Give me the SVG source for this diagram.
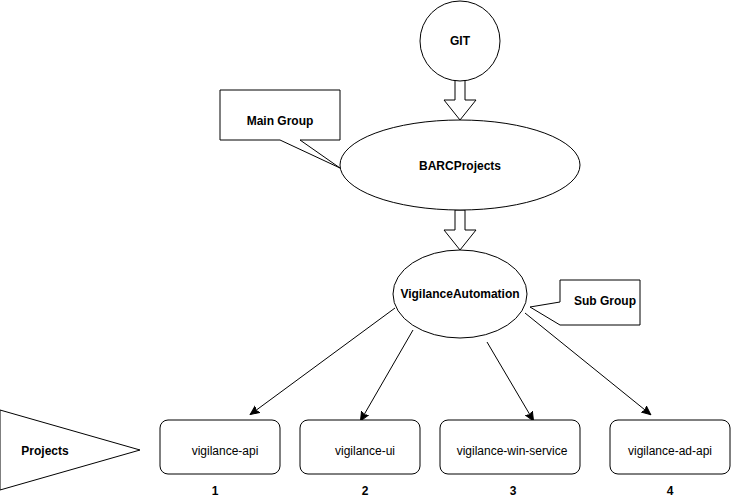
<svg xmlns="http://www.w3.org/2000/svg" width="731" height="501" viewBox="0 0 731 501">
<defs>
<marker id="ah" markerWidth="10" markerHeight="10" refX="8" refY="5" orient="auto" markerUnits="userSpaceOnUse">
<path d="M0,1 L9,5 L0,9 L2,5 Z" fill="#000" stroke="#000" stroke-width="1"/>
</marker>
<style>
.s{fill:#fff;stroke:#000;stroke-width:1}
.t{font-family:"Liberation Sans",Arial,sans-serif;font-size:12px;fill:#000;text-anchor:middle}
.b{font-weight:bold}
.c{fill:none;stroke:#000;stroke-width:1}
</style>
</defs>
<rect width="731" height="501" fill="#fff"/>
<g id="connectors">
<path class="s" d="M455,80 L465,80 L465,100 L476,100 L460,120 L444,100 L455,100 Z"/>
<path class="s" d="M455,210 L465,210 L465,230 L476,230 L460,250 L444,230 L455,230 Z"/>
<line class="c" x1="395" y1="308" x2="251" y2="414" marker-end="url(#ah)"/>
<line class="c" x1="413" y1="330" x2="361" y2="420" marker-end="url(#ah)"/>
<line class="c" x1="487" y1="342" x2="533" y2="420" marker-end="url(#ah)"/>
<line class="c" x1="525" y1="313" x2="650" y2="414" marker-end="url(#ah)"/>
</g>
<g id="git">
<circle class="s" cx="460" cy="41" r="40"/>
<text class="t b" x="460" y="45">GIT</text>
</g>
<g id="barcprojects">
<ellipse class="s" cx="460" cy="165" rx="120" ry="45"/>
<text class="t b" x="460" y="170">BARCProjects</text>
</g>
<g id="maingroup">
<path class="s" d="M220,90 L340,90 L340,140 L300,140 L340,168 L280,140 L220,140 Z"/>
<text class="t b" x="280" y="125">Main Group</text>
</g>
<g id="vigilanceautomation">
<ellipse class="s" cx="460" cy="294" rx="67" ry="44"/>
<text class="t b" x="460" y="298">VigilanceAutomation</text>
</g>
<g id="subgroup">
<path class="s" d="M560,280 L640,280 L640,325 L560,325 L530,307 L560,302 Z"/>
<text class="t b" x="605" y="305">Sub Group</text>
</g>
<g id="projects">
<polygon class="s" points="0,410 140,450 0,490"/>
<text class="t b" x="45" y="455">Projects</text>
</g>
<g id="vigilance-api">
<rect class="s" x="160" y="420" width="120" height="54" rx="8"/>
<text class="t" x="225" y="455">vigilance-api</text>
<text class="t b" x="215" y="495">1</text>
</g>
<g id="vigilance-ui">
<rect class="s" x="300" y="420" width="120" height="54" rx="8"/>
<text class="t" x="365" y="455">vigilance-ui</text>
<text class="t b" x="365" y="495">2</text>
</g>
<g id="vigilance-win-service">
<rect class="s" x="440" y="420" width="140" height="54" rx="8"/>
<text class="t" x="512" y="455">vigilance-win-service</text>
<text class="t b" x="513" y="495">3</text>
</g>
<g id="vigilance-ad-api">
<rect class="s" x="610" y="420" width="120" height="54" rx="8"/>
<text class="t" x="670" y="455">vigilance-ad-api</text>
<text class="t b" x="670" y="495">4</text>
</g>
</svg>
